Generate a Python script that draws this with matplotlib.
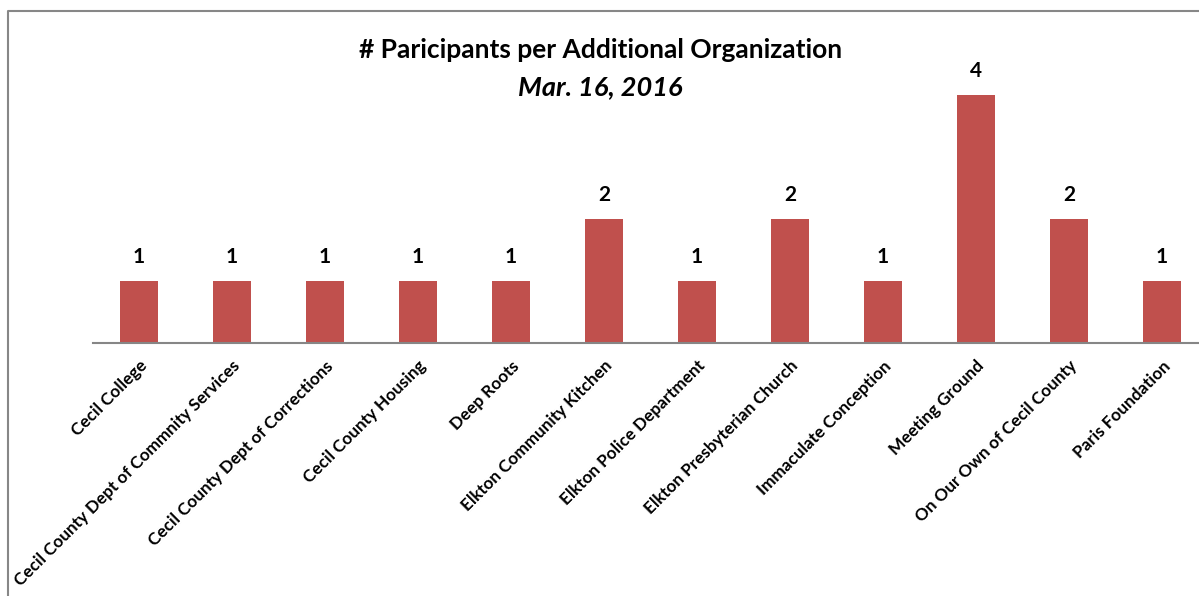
import matplotlib
matplotlib.use("Agg")
import matplotlib.pyplot as plt
from matplotlib.lines import Line2D

plt.rcParams['font.family'] = ['Lato', 'DejaVu Sans']

organizations = [
    "Cecil College",
    "Cecil County Dept of Commnity Services",
    "Cecil County Dept of Corrections",
    "Cecil County Housing",
    "Deep Roots",
    "Elkton Community Kitchen",
    "Elkton Police Department",
    "Elkton Presbyterian Church",
    "Immaculate Conception",
    "Meeting Ground",
    "On Our Own of Cecil County",
    "Paris Foundation",
]
participants = [1, 1, 1, 1, 1, 2, 1, 2, 1, 4, 2, 1]

title = "# Paricipants per Additional Organization"
subtitle = "Mar. 16, 2016"

W, H = 1199, 596
fig = plt.figure(figsize=(W / 100, H / 100), dpi=100)

# plot area in pixels (runs past the right edge, like the cropped original)
left_px, base_px, cat_px, unit_px = 92.5, 342.5, 93.0, 62.0
ymax = 4.5
ax = fig.add_axes([left_px / W, (H - base_px) / H,
                   cat_px * len(organizations) / W, unit_px * ymax / H])

x = range(len(organizations))
bars = ax.bar(x, participants, width=0.4, color="#C0504D", zorder=2)
ax.bar_label(bars, labels=[str(v) for v in participants], padding=10,
             fontsize=15, fontweight="bold", color="#000000")

ax.set_xlim(-0.5, len(organizations) - 0.5)
ax.set_ylim(0, ymax)
ax.set_yticks([])
ax.set_xticks(list(x))
ax.set_xticklabels(organizations, rotation=45, ha="right", va="top",
                   rotation_mode="anchor", fontsize=12.3, fontweight="bold")
ax.tick_params(axis="x", length=0, pad=11)

for side in ["top", "right", "left"]:
    ax.spines[side].set_visible(False)
ax.spines["bottom"].set_color("#868686")
ax.spines["bottom"].set_linewidth(1.5)

fig.text(601 / W, 1 - 50 / H, title, ha="center", va="center",
         fontsize=19, fontweight="bold")
fig.text(600 / W, 1 - 87 / H, subtitle, ha="center", va="center",
         fontsize=19.5, fontweight="bold", style="italic")

# chart border (only the left and top edges are inside the crop)
fig.add_artist(Line2D([8 / W, 8 / W, 1.0], [0.0, 1 - 11 / H, 1 - 11 / H],
                      transform=fig.transFigure, color="#878787", linewidth=1.5))

fig.savefig("out.png", dpi=100)
